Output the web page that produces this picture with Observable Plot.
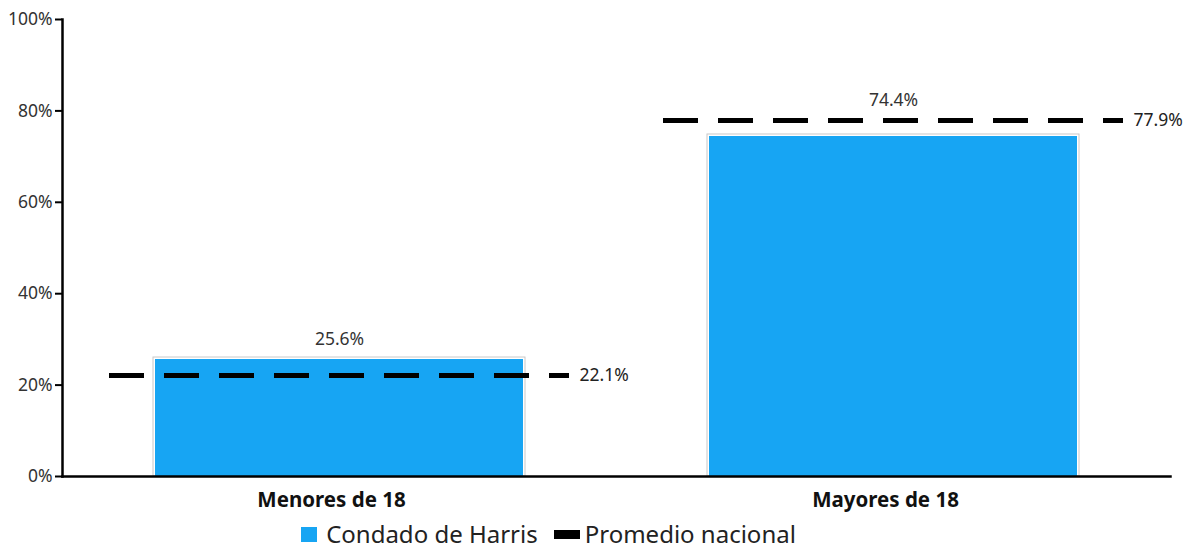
<!DOCTYPE html>
<html>
<head>
<meta charset="utf-8">
<script src="https://cdn.jsdelivr.net/npm/d3@7"></script>
<script src="https://cdn.jsdelivr.net/npm/@observablehq/plot@0.6"></script>
<style>
  html, body { margin: 0; padding: 0; background: #fff; overflow: hidden; }
  body { width: 1195px; height: 548px; position: relative; font-family: "Noto Sans", sans-serif; }
  #title { position: absolute; top: -20px; left: 0; width: 1114px; text-align: center; font-weight: bold; font-size: 19px; line-height: 26px; color: #111; white-space: nowrap; }
  #chart { position: absolute; top: 0; left: 0; }
  #legend { position: absolute; top: 521px; left: 0; width: 1097px; display: flex; justify-content: center; align-items: center; font-size: 24px; line-height: 26px; height: 26px; color: #222; }
  .sw { display: inline-block; }
  .item { display: flex; align-items: center; margin: 0 8px; }
</style>
</head>
<body>
<div id="title">Porcentaje de la población de Harris por edades (2019)</div>
<div id="chart"></div>
<div id="legend">
  <span class="item"><span class="sw" style="width:16px;height:15px;background:#17a5f3;margin-right:9px"></span>Condado de Harris</span>
  <span class="item"><span class="sw" style="width:26px;height:9px;background:#000;margin-right:5px"></span>Promedio nacional</span>
</div>
<script>
const categories = ["Menores de 18", "Mayores de 18"];
const harris = [0.256, 0.744];
const nacional = [0.221, 0.779];
const yTicks = [0, 0.2, 0.4, 0.6, 0.8, 1.0];

const rows = categories.map((c, i) => ({cat: c, harris: harris[i], nac: nacional[i], top: Math.max(harris[i], nacional[i])}));
const pct1 = d3.format(".1%");

const chart = Plot.plot({
  width: 1195,
  height: 515,
  marginLeft: 62,
  marginRight: 25,
  marginTop: 19,
  marginBottom: 39,
  style: {fontFamily: "Noto Sans, sans-serif", background: "#fff"},
  x: {domain: categories, paddingInner: 0.336, paddingOuter: 0.168, label: null},
  y: {domain: [0, 1], label: null},
  marks: [
    Plot.rect(rows, {x: "cat", y1: 0, y2: "harris", fill: "none", stroke: "#c8c8c8", strokeWidth: 1, insetLeft: -2, insetRight: -2, insetTop: -2}),
    Plot.barY(rows, {x: "cat", y: "harris", fill: "#17a5f3"}),
    Plot.tickY(rows, {x: "cat", y: "nac", stroke: "#000", strokeWidth: 5, strokeDasharray: "35,20", insetLeft: -46, insetRight: -46}),
    Plot.text(rows, {x: "cat", y: "top", text: d => pct1(d.harris), dy: -20, fontSize: 17.5, fill: "#333"}),
    Plot.text(rows, {x: "cat", y: "nac", text: d => pct1(d.nac), dx: 240, textAnchor: "start", fontSize: 17.5, fill: "#222"}),
    Plot.axisY({ticks: yTicks, tickFormat: d3.format(".0%"), tickSize: 7, tickPadding: 3, fontSize: 17.5, color: "#333", strokeWidth: 2, stroke: "#000"}),
    Plot.axisX({tickSize: 0, tickPadding: 16, fontSize: 20.5, fontWeight: "bold", fill: "#111", dx: -8}),
    Plot.frame({anchor: "left", stroke: "#000", strokeWidth: 2.5}),
    Plot.frame({anchor: "bottom", stroke: "#000", strokeWidth: 2.5})
  ]
});
document.getElementById("chart").appendChild(chart);
</script>
</body>
</html>
